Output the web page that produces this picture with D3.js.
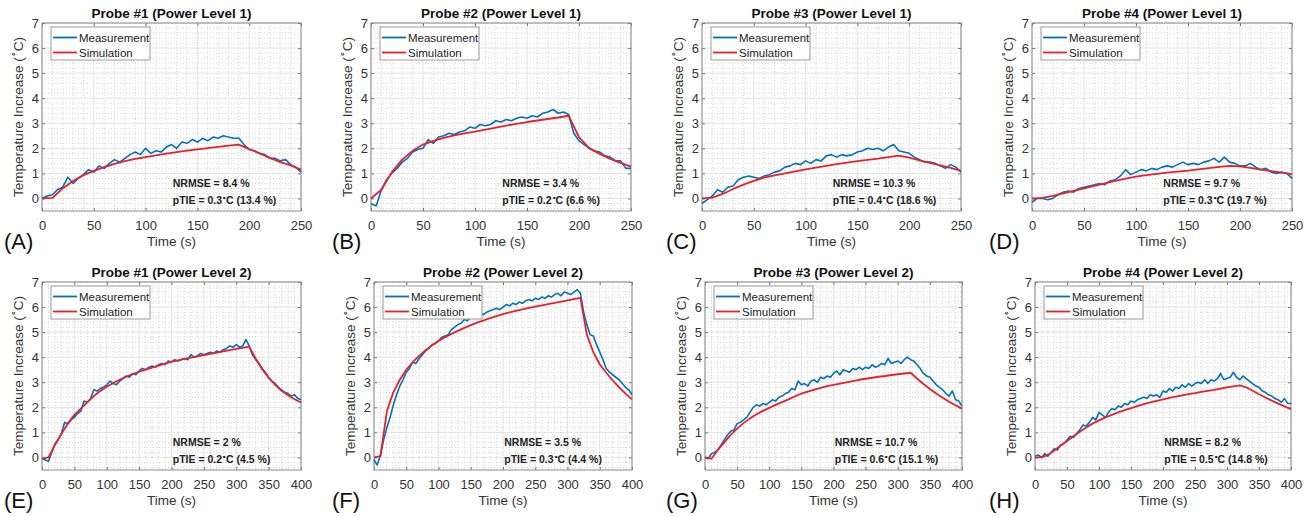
<!DOCTYPE html>
<html>
<head>
<meta charset="utf-8">
<script src="https://cdnjs.cloudflare.com/ajax/libs/d3/7.8.5/d3.min.js"></script>
<style>
  body { margin: 0; background: #fff; }
  svg { font-family: "Liberation Sans", Arial, sans-serif; }
  .tick text { fill: #333; font-size: 13px; }
  .tick line { stroke: #777; }
</style>
</head>
<body>
<svg id="chart" width="1312" height="517"></svg>
<script>
// sample times (s)
var tMeas1 = d3.range(0, 251, 5);
var tSim1 = d3.range(0, 251, 10);
var tMeas2 = d3.range(0, 401, 5);
var tSim2 = d3.range(0, 401, 10);

var xTicks1 = [0, 50, 100, 150, 200, 250];
var xTicks2 = [0, 50, 100, 150, 200, 250, 300, 350, 400];
var yTicks = [0, 1, 2, 3, 4, 5, 6, 7];

var titles = ['Probe #1 (Power Level 1)', 'Probe #2 (Power Level 1)', 'Probe #3 (Power Level 1)', 'Probe #4 (Power Level 1)',
  'Probe #1 (Power Level 2)', 'Probe #2 (Power Level 2)', 'Probe #3 (Power Level 2)', 'Probe #4 (Power Level 2)'];
var letters = ['(A)', '(B)', '(C)', '(D)', '(E)', '(F)', '(G)', '(H)'];
var nrmse = ['8.4', '3.4', '10.3', '9.7', '2', '3.5', '10.7', '8.2'];
var ptie = ['0.3', '0.2', '0.4', '0.3', '0.2', '0.3', '0.6', '0.5'];
var ptiePct = ['13.4', '6.6', '18.6', '19.7', '4.5', '4.4', '15.1', '14.8'];

// Power level 1, measurement (every 5 s)
var measA = [0.0, 0.1, 0.15, 0.35, 0.45, 0.85, 0.6, 0.8, 0.95, 1.15, 1.05, 1.3, 1.2, 1.4, 1.55, 1.45, 1.6, 1.75, 1.85, 1.75,
  2.0, 1.8, 1.9, 1.85, 2.05, 2.15, 2.0, 2.25, 2.2, 2.35, 2.25, 2.4, 2.3, 2.45, 2.4, 2.5, 2.45, 2.4, 2.4, 2.15,
  1.95, 1.9, 1.8, 1.75, 1.6, 1.6, 1.5, 1.55, 1.35, 1.25, 1.05];
var measB = [-0.2, -0.3, 0.35, 0.75, 1.0, 1.2, 1.45, 1.6, 1.85, 1.95, 2.0, 2.35, 2.2, 2.45, 2.5, 2.6, 2.55, 2.65, 2.7, 2.85,
  2.8, 2.95, 2.9, 2.95, 3.1, 3.05, 3.15, 3.1, 3.2, 3.25, 3.2, 3.3, 3.25, 3.4, 3.45, 3.55, 3.4, 3.45, 3.35, 2.6,
  2.3, 2.15, 2.0, 1.9, 1.85, 1.7, 1.65, 1.5, 1.5, 1.2, 1.2];
var measC = [-0.2, -0.05, 0.1, 0.35, 0.25, 0.45, 0.5, 0.75, 0.85, 0.9, 0.85, 0.8, 0.9, 0.95, 1.05, 1.1, 1.25, 1.3, 1.4, 1.35,
  1.5, 1.4, 1.55, 1.5, 1.7, 1.75, 1.65, 1.75, 1.7, 1.75, 1.85, 1.9, 2.0, 1.95, 2.0, 1.9, 2.05, 2.15, 1.9, 1.85,
  1.8, 1.65, 1.55, 1.45, 1.45, 1.4, 1.3, 1.2, 1.35, 1.25, 1.05];
var measD = [-0.15, 0.0, 0.0, -0.05, 0.0, 0.15, 0.25, 0.3, 0.25, 0.4, 0.45, 0.5, 0.55, 0.6, 0.55, 0.7, 0.75, 0.9, 1.15, 0.95,
  1.05, 1.15, 1.1, 1.2, 1.15, 1.25, 1.3, 1.25, 1.35, 1.45, 1.35, 1.4, 1.35, 1.45, 1.5, 1.6, 1.45, 1.65, 1.45, 1.4,
  1.3, 1.3, 1.4, 1.25, 1.15, 1.2, 1.05, 1.0, 1.05, 1.0, 0.8];

// Power level 1, simulation (every 10 s)
var simA = [0, 0.02, 0.4, 0.7, 0.93, 1.1, 1.25, 1.38, 1.49, 1.58, 1.65, 1.72, 1.79, 1.85, 1.91, 1.96, 2.01, 2.06, 2.11, 2.15,
  1.97, 1.8, 1.62, 1.45, 1.32, 1.15];
var simB = [0, 0.35, 1.05, 1.55, 1.9, 2.15, 2.3, 2.42, 2.52, 2.6, 2.67, 2.75, 2.83, 2.91, 2.98, 3.05, 3.11, 3.17, 3.23, 3.3,
  2.45, 2.0, 1.78, 1.58, 1.42, 1.27];
var simC = [0, 0.03, 0.18, 0.38, 0.55, 0.7, 0.83, 0.92, 1.0, 1.08, 1.16, 1.23, 1.3, 1.37, 1.43, 1.49, 1.54, 1.59, 1.65, 1.71,
  1.63, 1.52, 1.42, 1.32, 1.22, 1.1];
var simD = [0, 0.02, 0.1, 0.2, 0.3, 0.4, 0.5, 0.6, 0.7, 0.79, 0.87, 0.93, 0.98, 1.03, 1.07, 1.11, 1.16, 1.21, 1.26, 1.3,
  1.28, 1.22, 1.15, 1.09, 1.03, 0.97];

// Power level 2, measurement (every 5 s)
var measE = [-0.05, -0.1, -0.15, 0.2, 0.55, 0.7, 0.95, 1.4, 1.35, 1.5, 1.6, 1.75, 1.85, 2.25, 2.2, 2.35, 2.7, 2.65, 2.75, 2.8,
  2.9, 3.05, 2.95, 2.9, 3.05, 3.15, 3.25, 3.2, 3.35, 3.3, 3.45, 3.55, 3.5, 3.6, 3.65, 3.6, 3.7, 3.75, 3.7, 3.85,
  3.8, 3.9, 3.85, 3.9, 3.95, 3.9, 4.1, 4.0, 4.05, 4.15, 4.1, 4.15, 4.2, 4.15, 4.25, 4.2, 4.3, 4.35, 4.45, 4.4,
  4.5, 4.4, 4.45, 4.7, 4.45, 4.1, 3.9, 3.75, 3.55, 3.4, 3.2, 3.05, 2.95, 2.8, 2.7, 2.6, 2.55, 2.45, 2.5, 2.35,
  2.3];
var measF = [-0.1, -0.3, 0.1, 0.7, 1.2, 1.6, 2.1, 2.5, 2.85, 3.1, 3.4, 3.55, 3.8, 3.75, 3.95, 4.1, 4.25, 4.35, 4.5, 4.55,
  4.65, 4.8, 4.85, 4.9, 5.1, 5.2, 5.3, 5.35, 5.5, 5.45, 5.6, 5.55, 5.7, 5.75, 5.7, 5.8, 5.85, 5.9, 5.95, 5.9,
  6.0, 6.1, 6.05, 6.15, 6.1, 6.2, 6.15, 6.25, 6.3, 6.25, 6.35, 6.3, 6.4, 6.35, 6.45, 6.4, 6.5, 6.55, 6.45, 6.6,
  6.55, 6.5, 6.6, 6.7, 6.55, 5.8, 5.3, 4.9, 4.85, 4.5, 4.2, 3.9, 3.55, 3.4, 3.3, 3.2, 3.1, 2.95, 2.8, 2.7,
  2.5];
var measG = [0.0, -0.05, 0.15, 0.2, 0.3, 0.5, 0.7, 0.9, 1.05, 1.1, 1.35, 1.4, 1.5, 1.6, 1.8, 2.0, 2.1, 2.05, 2.15, 2.1,
  2.2, 2.3, 2.25, 2.4, 2.45, 2.55, 2.6, 2.75, 2.7, 3.05, 2.9, 2.95, 2.85, 3.05, 3.1, 3.0, 3.2, 3.15, 3.25, 3.2,
  3.35, 3.45, 3.3, 3.5, 3.45, 3.4, 3.55, 3.5, 3.6, 3.5, 3.6, 3.55, 3.7, 3.6, 3.65, 3.75, 3.7, 3.95, 3.75, 3.8,
  3.85, 3.75, 3.9, 4.0, 3.9, 3.85, 3.7, 3.55, 3.35, 3.25, 3.2, 3.05, 2.9, 2.8, 2.7, 2.55, 2.45, 2.65, 2.3, 2.25,
  2.05];
var measH = [0.05, 0.1, 0.0, 0.15, 0.05, 0.2, 0.35, 0.3, 0.5, 0.55, 0.7, 0.85, 0.8, 0.95, 1.1, 1.3, 1.25, 1.4, 1.6, 1.5,
  1.8, 1.7, 1.6, 1.8, 1.95, 1.9, 2.05, 2.0, 2.15, 2.1, 2.25, 2.2, 2.3, 2.35, 2.4, 2.35, 2.5, 2.45, 2.5, 2.4,
  2.65, 2.6, 2.75, 2.65, 2.8, 2.75, 2.9, 2.8, 2.95, 2.85, 2.95, 3.0, 2.95, 3.1, 2.95, 3.1, 3.05, 3.15, 3.35, 3.1,
  3.15, 3.2, 3.4, 3.2, 3.1, 3.25, 3.15, 3.05, 2.95, 2.85, 2.8, 2.65, 2.6, 2.5, 2.45, 2.35, 2.3, 2.2, 2.35, 2.15,
  2.15];

// Power level 2, simulation (every 10 s)
var simE = [-0.05, 0, 0.5, 0.95, 1.35, 1.7, 1.95, 2.2, 2.45, 2.65, 2.82, 2.97, 3.1, 3.22, 3.33, 3.42, 3.5, 3.58, 3.66, 3.74,
  3.82, 3.87, 3.93, 3.98, 4.03, 4.08, 4.13, 4.18, 4.23, 4.28, 4.33, 4.37, 4.42, 3.95, 3.52, 3.18, 2.9, 2.66, 2.48, 2.32,
  2.19];
var simF = [0, 0.05, 1.85, 2.6, 3.1, 3.5, 3.8, 4.05, 4.28, 4.48, 4.65, 4.8, 4.93, 5.05, 5.17, 5.28, 5.38, 5.47, 5.56, 5.64,
  5.72, 5.79, 5.85, 5.91, 5.97, 6.02, 6.07, 6.12, 6.17, 6.22, 6.27, 6.32, 6.37, 4.9, 4.2, 3.72, 3.38, 3.08, 2.8, 2.55,
  2.32];
var simG = [0, -0.05, 0.3, 0.6, 0.9, 1.15, 1.37, 1.56, 1.72, 1.86, 1.98, 2.1, 2.21, 2.32, 2.44, 2.55, 2.63, 2.71, 2.78, 2.85,
  2.9, 2.95, 3.0, 3.05, 3.1, 3.14, 3.18, 3.22, 3.25, 3.29, 3.32, 3.35, 3.38, 3.15, 2.93, 2.73, 2.55, 2.38, 2.22, 2.08,
  1.95];
var simH = [0, 0, 0.1, 0.28, 0.47, 0.66, 0.85, 1.03, 1.2, 1.35, 1.48, 1.6, 1.7, 1.8, 1.89, 1.97, 2.05, 2.13, 2.2, 2.26,
  2.32, 2.38, 2.43, 2.48, 2.53, 2.57, 2.62, 2.66, 2.7, 2.75, 2.8, 2.84, 2.88, 2.8, 2.66, 2.52, 2.39, 2.27, 2.15, 2.04,
  1.93];

var measAll = [measA, measB, measC, measD, measE, measF, measG, measH];
var simAll = [simA, simB, simC, simD, simE, simF, simG, simH];

// layout (pixels)
var rowTop = [23, 282];
var rowBottom = [211, 470];
var plotLeft = [[42, 371, 702, 1032], [42, 374, 705, 1035]];
var plotRight = [[301, 631, 961, 1292], [301, 632, 962, 1291]];
var letterX = [4, 332, 666, 989];
var measColor = '#0072bd';
var simColor = '#e8202a';
var gridColor = '#e3e3e3';
var minorColor = '#d6d6d6';
var boxColor = '#8a8a8a';

var svg = d3.select('#chart');

function drawPanel(p) {
  var row = Math.floor(p / 4);
  var col = p % 4;
  var x0 = plotLeft[row][col];
  var x1 = plotRight[row][col];
  var y0 = rowTop[row];
  var y1 = rowBottom[row];
  var w = x1 - x0;
  var h = y1 - y0;
  var xMax = row === 0 ? 250 : 400;
  var xTicks = row === 0 ? xTicks1 : xTicks2;
  var tMeas = row === 0 ? tMeas1 : tMeas2;
  var tSim = row === 0 ? tSim1 : tSim2;

  var x = d3.scaleLinear().domain([0, xMax]).range([0, w]);
  var y = d3.scaleLinear().domain([-0.5, 7]).range([h, 0]);

  var g = svg.append('g').attr('transform', 'translate(' + x0 + ',' + y0 + ')');

  // minor grid
  g.append('g').selectAll('line').data(d3.range(10, xMax, 10).filter(function (d) { return d % 50 !== 0; }))
    .enter().append('line')
    .attr('x1', function (d) { return x(d); }).attr('x2', function (d) { return x(d); })
    .attr('y1', 0).attr('y2', h)
    .attr('stroke', minorColor).attr('stroke-dasharray', '1,2');
  g.append('g').selectAll('line').data(d3.range(-4, 70, 2).filter(function (d) { return d % 10 !== 0; }))
    .enter().append('line')
    .attr('y1', function (d) { return y(d / 10); }).attr('y2', function (d) { return y(d / 10); })
    .attr('x1', 0).attr('x2', w)
    .attr('stroke', minorColor).attr('stroke-dasharray', '1,2');

  // major grid
  g.append('g').selectAll('line').data(xTicks).enter().append('line')
    .attr('x1', function (d) { return x(d); }).attr('x2', function (d) { return x(d); })
    .attr('y1', 0).attr('y2', h).attr('stroke', gridColor);
  g.append('g').selectAll('line').data(yTicks).enter().append('line')
    .attr('y1', function (d) { return y(d); }).attr('y2', function (d) { return y(d); })
    .attr('x1', 0).attr('x2', w).attr('stroke', gridColor);

  // axes, ticks pointing inward
  var axBottom = g.append('g').attr('transform', 'translate(0,' + h + ')')
    .call(d3.axisBottom(x).tickValues(xTicks).tickSize(-3).tickPadding(10));
  var axLeft = g.append('g')
    .call(d3.axisLeft(y).tickValues(yTicks).tickSize(-3).tickPadding(3));
  var axTop = g.append('g')
    .call(d3.axisTop(x).tickValues(xTicks).tickSize(-3).tickFormat(''));
  var axRight = g.append('g').attr('transform', 'translate(' + w + ',0)')
    .call(d3.axisRight(y).tickValues(yTicks).tickSize(-3).tickFormat(''));
  [axBottom, axLeft, axTop, axRight].forEach(function (a) {
    a.select('.domain').remove();
    a.attr('font-family', null).attr('font-size', null);
  });
  g.append('rect').attr('width', w).attr('height', h)
    .attr('fill', 'none').attr('stroke', boxColor);

  // lines
  var meas = measAll[p];
  var sim = simAll[p];
  var lineMeas = d3.line()
    .x(function (d, i) { return x(tMeas[i]); })
    .y(function (d) { return y(d); });
  var lineSim = d3.line()
    .x(function (d, i) { return x(tSim[i]); })
    .y(function (d) { return y(d); });
  g.append('path').datum(meas).attr('d', lineMeas)
    .attr('fill', 'none').attr('stroke', measColor).attr('stroke-width', 1.6).attr('stroke-linejoin', 'round');
  g.append('path').datum(sim).attr('d', lineSim)
    .attr('fill', 'none').attr('stroke', simColor).attr('stroke-width', 1.8).attr('stroke-linejoin', 'round');

  // legend
  var lg = g.append('g').attr('transform', 'translate(9,4)');
  lg.append('rect').attr('width', 99).attr('height', 33)
    .attr('fill', '#fff').attr('stroke', '#9a9a9a');
  [['Measurement', measColor], ['Simulation', simColor]].forEach(function (item, i) {
    var yy = 10.5 + i * 15;
    lg.append('line').attr('x1', 2).attr('x2', 26).attr('y1', yy).attr('y2', yy)
      .attr('stroke', item[1]).attr('stroke-width', 1.8);
    lg.append('text').attr('x', 28).attr('y', yy).attr('dy', '0.35em')
      .attr('font-size', '11.5px').attr('fill', '#222').text(item[0]);
  });

  // statistics
  var sx = w * 0.505;
  g.append('text').attr('x', sx).attr('y', h - 24)
    .attr('font-size', '10.5px').attr('font-weight', 'bold').attr('fill', '#222')
    .text('NRMSE = ' + nrmse[p] + ' %');
  var pt = g.append('text').attr('x', sx).attr('y', h - 7)
    .attr('font-size', '10.5px').attr('font-weight', 'bold').attr('fill', '#222');
  pt.append('tspan').text('pTIE = ' + ptie[p]);
  pt.append('tspan').attr('dy', -4).attr('font-size', '7px').text('\u2218');
  pt.append('tspan').attr('dy', 4).text('C (' + ptiePct[p] + ' %)');

  // title
  g.append('text').attr('x', w / 2).attr('y', -5).attr('text-anchor', 'middle')
    .attr('font-size', '13.5px').attr('font-weight', 'bold').attr('fill', '#111')
    .text(titles[p]);

  // axis labels
  g.append('text').attr('x', w / 2).attr('y', h + 35).attr('text-anchor', 'middle')
    .attr('font-size', '13.5px').attr('fill', '#333').text('Time (s)');
  var yl = g.append('text').attr('transform', 'translate(-19,' + (h / 2) + ') rotate(-90)')
    .attr('text-anchor', 'middle').attr('font-size', '13.5px').attr('fill', '#333');
  yl.append('tspan').text('Temperature Increase (');
  yl.append('tspan').attr('dy', -6).attr('font-size', '9px').text('\u2218');
  yl.append('tspan').attr('dy', 6).text('C)');

  // panel letter
  svg.append('text').attr('x', letterX[col]).attr('y', y1 + 38)
    .attr('font-size', '22px').attr('fill', '#111').text(letters[p]);
}

for (var p = 0; p < 8; p++) {
  drawPanel(p);
}
</script>
</body>
</html>
